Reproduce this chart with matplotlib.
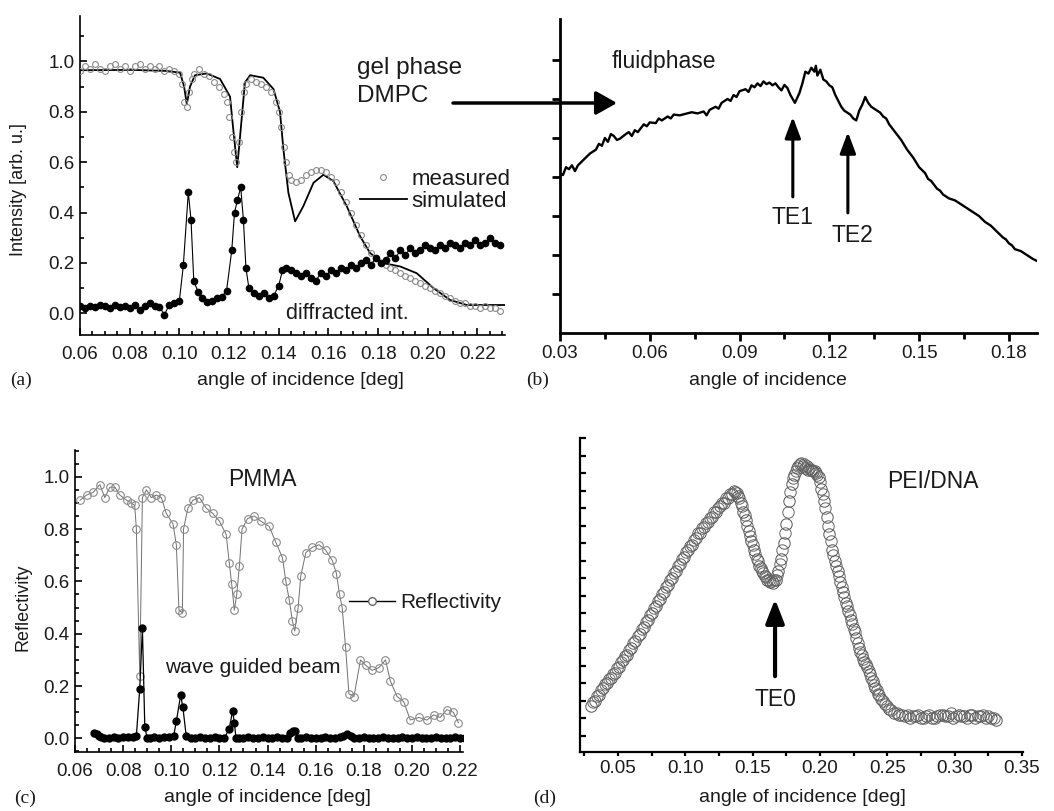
import numpy as np
import matplotlib.pyplot as plt
from matplotlib.patches import FancyArrowPatch
from matplotlib.ticker import MultipleLocator, NullFormatter

# Panel (a): measured reflectivity, simulation and diffracted intensity
a_meas_x = [0.060, 0.062, 0.064, 0.066, 0.068, 0.070, 0.072, 0.074, 0.076, 0.078,
            0.080, 0.082, 0.084, 0.086, 0.088, 0.090, 0.092, 0.094, 0.096, 0.098,
            0.100, 0.101, 0.102, 0.103, 0.104, 0.105, 0.106, 0.108, 0.110, 0.112,
            0.114, 0.116, 0.118, 0.119, 0.120, 0.121, 0.122, 0.123, 0.124, 0.125,
            0.126, 0.127, 0.129, 0.131, 0.133, 0.135, 0.137, 0.139, 0.140, 0.141,
            0.142, 0.143, 0.144, 0.145, 0.147, 0.149, 0.151, 0.153, 0.155, 0.157,
            0.159, 0.161, 0.163, 0.165, 0.167, 0.169, 0.171, 0.173, 0.175, 0.177,
            0.179, 0.181, 0.183, 0.185, 0.187, 0.189, 0.191, 0.193, 0.195, 0.197,
            0.199, 0.201, 0.203, 0.205, 0.207, 0.209, 0.211, 0.213, 0.215, 0.217,
            0.219, 0.221, 0.223, 0.225, 0.227, 0.229]
a_meas_y = [0.96, 0.98, 0.97, 0.99, 0.97, 0.96, 0.98, 0.99, 0.97, 0.98,
            0.96, 0.98, 0.99, 0.97, 0.98, 0.97, 0.98, 0.96, 0.97, 0.96,
            0.95, 0.91, 0.84, 0.82, 0.88, 0.93, 0.95, 0.97, 0.95, 0.94,
            0.92, 0.90, 0.87, 0.84, 0.78, 0.70, 0.64, 0.60, 0.68, 0.80,
            0.88, 0.91, 0.93, 0.92, 0.91, 0.90, 0.88, 0.84, 0.80, 0.74,
            0.66, 0.60, 0.55, 0.53, 0.52, 0.53, 0.55, 0.56, 0.57, 0.57,
            0.56, 0.54, 0.52, 0.48, 0.44, 0.40, 0.35, 0.31, 0.27, 0.24,
            0.22, 0.20, 0.19, 0.18, 0.17, 0.16, 0.15, 0.14, 0.13, 0.12,
            0.11, 0.10, 0.09, 0.08, 0.07, 0.06, 0.05, 0.04, 0.04, 0.03,
            0.03, 0.02, 0.03, 0.02, 0.02, 0.01]

a_sim_x = [0.060, 0.0815, 0.0949, 0.1003, 0.1019, 0.1030, 0.1043, 0.1063, 0.111,
           0.1164, 0.1204, 0.1217, 0.1233, 0.1247, 0.1264, 0.1285, 0.1338, 0.1379,
           0.1405, 0.1419, 0.1439, 0.1466, 0.1499, 0.154, 0.158, 0.162, 0.1674,
           0.1728, 0.1768, 0.1822, 0.1889, 0.1956, 0.2023, 0.209, 0.2157, 0.2311]
a_sim_y = [0.965, 0.966, 0.962, 0.955, 0.90, 0.83, 0.90, 0.945, 0.952,
           0.93, 0.86, 0.73, 0.58, 0.73, 0.916, 0.945, 0.935, 0.89,
           0.80, 0.65, 0.478, 0.365, 0.425, 0.518, 0.55, 0.525, 0.425,
           0.305, 0.239, 0.199, 0.186, 0.159, 0.10, 0.053, 0.033, 0.033]

a_diff_x = [0.060, 0.062, 0.064, 0.066, 0.068, 0.070, 0.072, 0.074, 0.076, 0.078,
            0.080, 0.082, 0.084, 0.086, 0.088, 0.090, 0.092, 0.094, 0.096, 0.098,
            0.100, 0.1016, 0.1036, 0.1047, 0.1058, 0.1075, 0.109, 0.111, 0.113,
            0.115, 0.117, 0.119, 0.1211, 0.1222, 0.1234, 0.1247, 0.1258, 0.1268,
            0.128, 0.130, 0.132, 0.134, 0.136, 0.138, 0.140, 0.1415, 0.143, 0.145,
            0.147, 0.149, 0.151, 0.153, 0.155, 0.157, 0.159, 0.161, 0.163, 0.165,
            0.167, 0.169, 0.171, 0.173, 0.175, 0.177, 0.179, 0.181, 0.183, 0.185,
            0.187, 0.189, 0.191, 0.193, 0.195, 0.197, 0.199, 0.201, 0.203, 0.205,
            0.207, 0.209, 0.211, 0.213, 0.215, 0.217, 0.219, 0.221, 0.223, 0.225,
            0.227, 0.229]
a_diff_y = [0.03, 0.02, 0.03, 0.025, 0.035, 0.03, 0.02, 0.035, 0.025, 0.03,
            0.02, 0.035, 0.015, 0.03, 0.04, 0.03, 0.025, -0.005, 0.035, 0.04,
            0.05, 0.19, 0.48, 0.37, 0.13, 0.085, 0.06, 0.045, 0.05,
            0.06, 0.065, 0.09, 0.25, 0.40, 0.45, 0.50, 0.37, 0.18,
            0.10, 0.08, 0.07, 0.08, 0.06, 0.07, 0.11, 0.17, 0.18, 0.17,
            0.16, 0.15, 0.16, 0.14, 0.13, 0.16, 0.15, 0.17, 0.16, 0.18,
            0.17, 0.19, 0.18, 0.20, 0.21, 0.19, 0.22, 0.20, 0.21, 0.24,
            0.22, 0.25, 0.23, 0.26, 0.24, 0.25, 0.27, 0.26, 0.25, 0.27,
            0.26, 0.28, 0.27, 0.26, 0.28, 0.27, 0.29, 0.27, 0.28, 0.30,
            0.28, 0.27]

# Panel (b): fluid phase DMPC
b_x = [0.030, 0.031, 0.032, 0.033, 0.034, 0.035, 0.036, 0.038, 0.040, 0.042,
       0.043, 0.044, 0.045, 0.046, 0.047, 0.048, 0.049, 0.050, 0.052, 0.053,
       0.054, 0.055, 0.056, 0.058, 0.059, 0.060, 0.062, 0.063, 0.064, 0.066,
       0.067, 0.068, 0.070, 0.072, 0.074, 0.076, 0.078, 0.079, 0.080, 0.082,
       0.083, 0.084, 0.086, 0.087, 0.088, 0.089, 0.090, 0.092, 0.093, 0.094,
       0.095, 0.096, 0.097, 0.098, 0.099, 0.100, 0.101, 0.102, 0.103, 0.104,
       0.105, 0.106, 0.107, 0.1085, 0.110, 0.111, 0.112, 0.113, 0.114, 0.115,
       0.1155, 0.116, 0.117, 0.118, 0.119, 0.120, 0.121, 0.122, 0.123, 0.124,
       0.125, 0.126, 0.127, 0.128, 0.129, 0.130, 0.131, 0.132, 0.133, 0.134,
       0.135, 0.136, 0.137, 0.138, 0.139, 0.140, 0.142, 0.144, 0.146, 0.148,
       0.150, 0.152, 0.153, 0.154, 0.155, 0.156, 0.157, 0.158, 0.159, 0.160,
       0.162, 0.163, 0.164, 0.166, 0.168, 0.170, 0.172, 0.174, 0.176, 0.178,
       0.179, 0.180, 0.181, 0.182, 0.184, 0.186, 0.188, 0.1893]
b_y = [4.10, 4.05, 4.25, 4.20, 4.30, 4.15, 4.30, 4.45, 4.60, 4.70,
       4.85, 4.80, 5.00, 4.90, 5.10, 5.05, 4.95, 4.98, 5.10, 5.15,
       5.05, 5.20, 5.15, 5.35, 5.30, 5.40, 5.38, 5.50, 5.45, 5.55,
       5.50, 5.60, 5.58, 5.62, 5.66, 5.63, 5.68, 5.58, 5.72, 5.80,
       5.75, 5.90, 6.00, 5.95, 6.10, 6.05, 6.20, 6.25, 6.18, 6.35,
       6.30, 6.40, 6.33, 6.45, 6.38, 6.42, 6.35, 6.40, 6.30, 6.22,
       6.36, 6.28, 6.10, 5.90, 6.15, 6.40, 6.70, 6.65, 6.80, 6.70,
       6.85, 6.60, 6.75, 6.50, 6.45, 6.35, 6.30, 6.10, 5.95, 5.80,
       5.70, 5.65, 5.60, 5.50, 5.45, 5.70, 5.85, 6.05, 5.90, 5.80,
       5.75, 5.70, 5.65, 5.55, 5.50, 5.35, 5.15, 4.95, 4.70, 4.50,
       4.25, 4.10, 3.95, 3.90, 3.80, 3.70, 3.65, 3.55, 3.50, 3.45,
       3.40, 3.35, 3.30, 3.20, 3.10, 3.00, 2.85, 2.75, 2.60, 2.45,
       2.40, 2.30, 2.25, 2.15, 2.10, 2.00, 1.90, 1.85]

# Panel (c): PMMA reflectivity and wave guided beam
c_refl_x = [0.0621, 0.0648, 0.0676, 0.0703, 0.0724, 0.0745, 0.0766, 0.0786, 0.0814,
            0.0834, 0.0848, 0.0855, 0.0869, 0.0880, 0.0897, 0.0917, 0.0938, 0.0959,
            0.0979, 0.1007, 0.1021, 0.1032, 0.1046, 0.1051, 0.1069, 0.1090, 0.1117,
            0.1145, 0.1172, 0.1200, 0.1228, 0.1241, 0.1251, 0.1262, 0.1272, 0.1283,
            0.1294, 0.1317, 0.1345, 0.1372, 0.1407, 0.1434, 0.1462, 0.1476, 0.1490,
            0.1503, 0.1513, 0.1527, 0.1538, 0.1559, 0.1586, 0.1614, 0.1641, 0.1669,
            0.1686, 0.1699, 0.1710, 0.1724, 0.1738, 0.1759, 0.1786, 0.1807, 0.1834,
            0.1862, 0.1890, 0.1910, 0.1938, 0.1966, 0.1993, 0.2028, 0.2062, 0.2090,
            0.2117, 0.2145, 0.2172, 0.2193]
c_refl_y = [0.91, 0.93, 0.94, 0.97, 0.92, 0.96, 0.96, 0.93, 0.91,
            0.90, 0.89, 0.80, 0.24, 0.92, 0.95, 0.92, 0.93, 0.92,
            0.86, 0.82, 0.74, 0.49, 0.48, 0.80, 0.88, 0.91, 0.92,
            0.88, 0.86, 0.83, 0.78, 0.67, 0.59, 0.49, 0.55, 0.66,
            0.80, 0.84, 0.85, 0.83, 0.81, 0.75, 0.69, 0.60, 0.53,
            0.45, 0.41, 0.50, 0.62, 0.71, 0.73, 0.74, 0.72, 0.68,
            0.63, 0.55, 0.50, 0.35, 0.17, 0.16, 0.30, 0.28, 0.26,
            0.27, 0.30, 0.22, 0.16, 0.14, 0.07, 0.08, 0.07, 0.09,
            0.08, 0.11, 0.10, 0.06]

c_wave_x = [0.068, 0.069, 0.070, 0.071, 0.072, 0.074, 0.076, 0.078, 0.080, 0.082,
            0.084, 0.0855, 0.0869, 0.0880, 0.0890, 0.0900, 0.091, 0.093, 0.095, 0.097,
            0.099, 0.101, 0.1021, 0.1039, 0.1048, 0.1062, 0.108, 0.110, 0.112, 0.114,
            0.116, 0.118, 0.120, 0.122, 0.124, 0.1255, 0.1262, 0.1269, 0.128, 0.130,
            0.132, 0.134, 0.136, 0.138, 0.140, 0.142, 0.144, 0.146, 0.148, 0.1495,
            0.1505, 0.1515, 0.1525, 0.154, 0.156, 0.158, 0.160, 0.162, 0.164, 0.166,
            0.168, 0.170, 0.1715, 0.173, 0.1745, 0.176, 0.178, 0.180, 0.182, 0.184,
            0.186, 0.188, 0.190, 0.192, 0.194, 0.196, 0.198, 0.200, 0.202, 0.204,
            0.206, 0.208, 0.210, 0.212, 0.214, 0.216, 0.218, 0.220, 0.222]
c_wave_y = [0.02, 0.015, 0.01, 0.005, 0.0, 0.0, 0.005, 0.0, 0.005, 0.005,
            0.005, 0.01, 0.19, 0.42, 0.045, 0.0, 0.0, 0.005, 0.0, 0.005,
            0.005, 0.01, 0.065, 0.165, 0.12, 0.01, 0.0, 0.0, 0.005, 0.0,
            0.0, 0.005, 0.0, 0.0, 0.035, 0.105, 0.06, 0.0, 0.0, 0.0,
            0.005, 0.0, 0.0, 0.005, 0.0, 0.0, 0.005, 0.0, 0.0, 0.02,
            0.03, 0.03, 0.0, 0.0, 0.005, 0.0, 0.0, 0.0, 0.005, 0.0,
            0.0, 0.005, 0.01, 0.015, 0.01, 0.0, 0.0, 0.005, 0.0, 0.0,
            0.0, 0.005, 0.0, 0.0, 0.0, 0.005, 0.0, 0.0, 0.005, 0.0,
            0.0, 0.0, 0.005, 0.0, 0.0, 0.0, 0.005, 0.0, 0.0]

# Panel (d): PEI/DNA, two overlapping scans
d_x = [0.030, 0.033, 0.036, 0.039, 0.042, 0.045, 0.048, 0.051, 0.054, 0.057,
       0.060, 0.063, 0.066, 0.069, 0.072, 0.075, 0.078, 0.081, 0.084, 0.087,
       0.090, 0.093, 0.096, 0.099, 0.102, 0.105, 0.108, 0.111, 0.114, 0.117,
       0.120, 0.123, 0.126, 0.129, 0.132, 0.135, 0.137, 0.139, 0.141, 0.143,
       0.145, 0.147, 0.149, 0.151, 0.153, 0.155, 0.157, 0.159, 0.161, 0.163,
       0.165, 0.167, 0.169, 0.171, 0.173, 0.175, 0.177, 0.179, 0.181, 0.183,
       0.185, 0.187, 0.189, 0.191, 0.193, 0.195, 0.197, 0.199, 0.201, 0.203,
       0.205, 0.207, 0.209, 0.211, 0.213, 0.215, 0.217, 0.219, 0.221, 0.223,
       0.225, 0.227, 0.229, 0.231, 0.233, 0.235, 0.237, 0.239, 0.241, 0.243,
       0.245, 0.248, 0.251, 0.255, 0.259, 0.263, 0.267, 0.271, 0.275, 0.279,
       0.283, 0.287, 0.291, 0.295, 0.299, 0.303, 0.307, 0.311, 0.315, 0.319,
       0.323, 0.327, 0.331]
d_y = [2.7, 3.0, 3.3, 3.7, 4.0, 4.3, 4.6, 4.9, 5.3, 5.6,
       6.0, 6.4, 6.8, 7.2, 7.6, 8.0, 8.4, 8.8, 9.2, 9.6,
       10.0, 10.4, 10.8, 11.2, 11.6, 11.9, 12.3, 12.6, 12.9, 13.2,
       13.5, 13.8, 14.1, 14.3, 14.6, 14.8, 14.9, 14.7, 14.3, 13.8,
       13.3, 12.7, 12.1, 11.6, 11.1, 10.7, 10.4, 10.1, 9.9, 9.8,
       9.7, 9.9, 10.4, 11.1, 12.0, 13.1, 14.4, 15.4, 15.9, 16.3,
       16.5, 16.4, 16.3, 16.2, 16.2, 16.1, 16.0, 15.8, 15.1, 14.4,
       13.5, 12.5, 11.6, 11.0, 10.4, 9.8, 9.2, 8.6, 8.1, 7.6,
       7.1, 6.6, 6.0, 5.6, 5.2, 4.9, 4.5, 4.1, 3.7, 3.4,
       3.1, 2.8, 2.5, 2.3, 2.2, 2.1, 2.0, 2.1, 2.0, 2.1,
       2.0, 2.1, 2.2, 2.1, 2.0, 2.2, 2.1, 2.2, 2.0, 2.1,
       2.0, 2.0, 1.9]
d2_x = [0.0315, 0.0345, 0.0375, 0.0405, 0.0435, 0.0465, 0.0495, 0.0525, 0.0555, 0.0585,
        0.0615, 0.0645, 0.0675, 0.0705, 0.0735, 0.0765, 0.0795, 0.0825, 0.0855, 0.0885,
        0.0915, 0.0945, 0.0975, 0.1005, 0.1035, 0.1065, 0.1095, 0.1125, 0.1155, 0.1185,
        0.1215, 0.1245, 0.1275, 0.1305, 0.1335, 0.1365, 0.138, 0.140, 0.142, 0.144,
        0.146, 0.148, 0.150, 0.152, 0.154, 0.156, 0.158, 0.160, 0.162, 0.164,
        0.166, 0.168, 0.170, 0.172, 0.174, 0.176, 0.178, 0.180, 0.182, 0.184,
        0.186, 0.188, 0.190, 0.192, 0.194, 0.196, 0.198, 0.200, 0.202, 0.204,
        0.206, 0.208, 0.210, 0.212, 0.214, 0.216, 0.218, 0.220, 0.222, 0.224,
        0.226, 0.228, 0.230, 0.232, 0.234, 0.236, 0.238, 0.240, 0.242, 0.244,
        0.2465, 0.2495, 0.253, 0.257, 0.261, 0.265, 0.269, 0.273, 0.277, 0.281,
        0.285, 0.289, 0.293, 0.297, 0.301, 0.305, 0.309, 0.313, 0.317, 0.321,
        0.325, 0.329]
d2_y = [2.95, 3.25, 3.6, 3.95, 4.25, 4.55, 4.85, 5.2, 5.55, 5.9,
        6.3, 6.7, 7.1, 7.5, 7.9, 8.3, 8.7, 9.1, 9.5, 9.9,
        10.3, 10.7, 11.1, 11.5, 11.85, 12.2, 12.55, 12.85, 13.15, 13.45,
        13.75, 14.0, 14.3, 14.55, 14.8, 15.0, 14.85, 14.55, 14.1, 13.6,
        13.0, 12.4, 11.9, 11.4, 10.95, 10.6, 10.3, 10.05, 9.9, 9.85,
        9.9, 10.2, 10.8, 11.6, 12.6, 13.8, 14.9, 15.7, 16.1, 16.4,
        16.6, 16.5, 16.4, 16.3, 16.2, 16.1, 15.9, 15.5, 14.8, 14.0,
        13.0, 12.1, 11.3, 10.7, 10.1, 9.5, 8.9, 8.4, 7.9, 7.4,
        6.9, 6.3, 5.8, 5.4, 5.1, 4.7, 4.3, 3.9, 3.6, 3.3,
        3.0, 2.7, 2.45, 2.3, 2.2, 2.2, 2.1, 2.2, 2.0, 2.2,
        2.0, 2.2, 2.1, 2.3, 2.1, 2.1, 2.0, 2.2, 2.1, 2.2,
        2.1, 2.0]

W, H = 1054, 811
plt.rcParams['font.family'] = ['Liberation Sans', 'DejaVu Sans']
txt = '#1a1a1a'
tick_fs = 13.5
lab_fs = 14
ann_fs = 16.5


def fx(px):
    return px / W


def fy(py):
    return 1 - py / H


def box(left, top, right, bottom):
    return [fx(left), fy(bottom), (right - left) / W, (bottom - top) / H]


def style(ax, lw, direction, length):
    for s in ['top', 'right']:
        ax.spines[s].set_visible(False)
    for s in ['left', 'bottom']:
        ax.spines[s].set_linewidth(lw)
    ax.tick_params(which='major', direction=direction, length=length, width=lw,
                   labelsize=tick_fs, labelcolor=txt)
    ax.tick_params(which='minor', direction=direction, length=length * 0.55, width=lw)


fig = plt.figure(figsize=(W / 100, H / 100), dpi=100)

# %% (a)
ax_a = fig.add_axes(box(80, 16, 505, 335))
ax_a.plot(a_sim_x, a_sim_y, color='k', lw=1.3, zorder=2)
ax_a.plot(a_meas_x, a_meas_y, 'o', ms=4.2, mfc='none', mec='#8a8a8a', mew=0.8, zorder=3)
ax_a.plot(a_diff_x, a_diff_y, '-o', color='k', lw=0.8, ms=4.5, zorder=4)
ax_a.set_xlim(0.06, 0.2311)
ax_a.set_ylim(-0.086, 1.18)
ax_a.xaxis.set_major_locator(MultipleLocator(0.02))
ax_a.xaxis.set_minor_locator(MultipleLocator(0.005))
ax_a.yaxis.set_major_locator(MultipleLocator(0.2))
ax_a.yaxis.set_minor_locator(MultipleLocator(0.1))
ax_a.xaxis.set_major_formatter(lambda v, p: f'{v:.2f}')
ax_a.yaxis.set_major_formatter(lambda v, p: f'{v:.1f}')
style(ax_a, 1.2, 'in', 5)
ax_a.tick_params(axis='x', pad=8)
ax_a.tick_params(axis='y', pad=4)
ax_a.set_ylabel('Intensity [arb. u.]', fontsize=lab_fs - 1, color=txt)
ax_a.yaxis.set_label_coords(-0.124, 0.455)
ax_a.text(0.1675, 0.0, 'diffracted int.', fontsize=ann_fs - 1, color=txt,
          ha='center', va='center')
ha1, = ax_a.plot([], [], 'o', ms=4.2, mfc='none', mec='#8a8a8a', mew=0.8)
ha2, = ax_a.plot([], [], color='k', lw=1.3)
ax_a.legend([ha1, ha2], ['measured', 'simulated'], loc='upper left',
            bbox_to_anchor=(fx(360), fy(169)), bbox_transform=fig.transFigure,
            frameon=False, fontsize=ann_fs - 0.5, handlelength=2.1,
            handletextpad=0.2, labelspacing=0.05, borderpad=0, borderaxespad=0,
            labelcolor=txt)

# %% (b)
ax_b = fig.add_axes(box(560, 19, 1037, 333))
ax_b.plot(b_x, b_y, color='k', lw=1.7)
ax_b.set_xlim(0.03, 0.1894)
ax_b.set_ylim(0, 8.05)
ax_b.xaxis.set_major_locator(MultipleLocator(0.03))
ax_b.xaxis.set_minor_locator(MultipleLocator(0.015))
ax_b.set_yticks([1, 2, 3, 4, 5, 6, 7])
ax_b.yaxis.set_major_formatter(NullFormatter())
ax_b.xaxis.set_major_formatter(lambda v, p: f'{v:.2f}')
style(ax_b, 2.0, 'out', 6)
ax_b.tick_params(axis='x', which='minor', length=4)
ax_b.tick_params(axis='x', pad=3)
ax_b.text(0.0474, 6.95, 'fluidphase', fontsize=ann_fs, color=txt, ha='left', va='center')
arrow_b = dict(arrowstyle='-|>,head_length=0.8,head_width=0.3', lw=2.2, color='k',
               mutation_scale=16, shrinkA=0, shrinkB=0)
ax_b.annotate('', xy=(0.1078, 5.54), xytext=(0.1078, 3.49), arrowprops=arrow_b)
ax_b.annotate('', xy=(0.1262, 5.15), xytext=(0.1262, 3.08), arrowprops=arrow_b)
ax_b.text(0.1078, 2.97, 'TE1', fontsize=ann_fs, color=txt, ha='center', va='center')
ax_b.text(0.1278, 2.5, 'TE2', fontsize=ann_fs, color=txt, ha='center', va='center')

# %% (c)
ax_c = fig.add_axes(box(75, 450, 463, 752))
ax_c.plot(c_refl_x, c_refl_y, '-o', color='#707070', lw=0.7, ms=5.5, mfc='none',
          mec='#8a8a8a', mew=0.8, zorder=2)
ax_c.plot(c_wave_x, c_wave_y, '-o', color='k', lw=0.9, ms=5, zorder=3)
ax_c.set_xlim(0.06, 0.2212)
ax_c.set_ylim(-0.052, 1.102)
ax_c.xaxis.set_major_locator(MultipleLocator(0.02))
ax_c.xaxis.set_minor_locator(MultipleLocator(0.005))
ax_c.yaxis.set_major_locator(MultipleLocator(0.2))
ax_c.yaxis.set_minor_locator(MultipleLocator(0.05))
ax_c.xaxis.set_major_formatter(lambda v, p: f'{v:.2f}')
ax_c.yaxis.set_major_formatter(lambda v, p: f'{v:.1f}')
style(ax_c, 1.2, 'in', 5)
ax_c.tick_params(axis='x', pad=8)
ax_c.tick_params(axis='y', pad=4)
ax_c.set_ylabel('Reflectivity', fontsize=lab_fs - 1, color=txt)
ax_c.yaxis.set_label_coords(-0.112, 0.48)
ax_c.text(0.1378, 0.99, 'PMMA', fontsize=ann_fs, color=txt, ha='center', va='center')
ax_c.text(0.0973, 0.27, 'wave guided beam', fontsize=ann_fs - 1.5, color=txt,
          ha='left', va='center')
hc, = ax_c.plot([], [], '-o', color='k', lw=1.0, ms=5.5, mfc='white', mec='#666666')
ax_c.legend([hc], ['Reflectivity'], loc='center left',
            bbox_to_anchor=(fx(349), fy(603)), bbox_transform=fig.transFigure,
            frameon=False, fontsize=ann_fs - 1.5, handlelength=2.2,
            handletextpad=0.25, borderpad=0, borderaxespad=0, labelcolor=txt)

# %% (d)
ax_d = fig.add_axes(box(580, 438, 1023, 752))
ax_d.plot(d_x, d_y, 'o', ms=8.2, mfc='none', mec='#555555', mew=0.7)
ax_d.plot(d2_x, d2_y, 'o', ms=8.2, mfc='none', mec='#666666', mew=0.7)
ax_d.set_xlim(0.0218, 0.3507)
ax_d.set_ylim(0.07, 18)
ax_d.xaxis.set_major_locator(MultipleLocator(0.05))
ax_d.xaxis.set_minor_locator(MultipleLocator(0.025))
ax_d.set_yticks(list(range(1, 19)))
ax_d.yaxis.set_major_formatter(NullFormatter())
ax_d.xaxis.set_major_formatter(lambda v, p: f'{v:.2f}')
style(ax_d, 1.6, 'in', 4)
ax_d.tick_params(axis='x', which='both', direction='out', length=3)
ax_d.tick_params(axis='x', pad=3)
ax_d.text(0.2839, 15.5, 'PEI/DNA', fontsize=ann_fs, color=txt, ha='center', va='center')
ax_d.annotate('', xy=(0.1666, 8.8), xytext=(0.1666, 4.4),
              arrowprops=dict(arrowstyle='-|>,head_length=0.9,head_width=0.35', lw=3,
                              color='k', mutation_scale=16, shrinkA=0, shrinkB=0))
ax_d.text(0.1666, 3.08, 'TE0', fontsize=ann_fs, color=txt, ha='center', va='center')

# %% Figure level texts and the gel phase arrow
fig.text(fx(300), fy(380), 'angle of incidence [deg]', fontsize=lab_fs, color=txt,
         ha='center', va='center')
fig.text(fx(768), fy(380), 'angle of incidence', fontsize=lab_fs, color=txt,
         ha='center', va='center')
fig.text(fx(267), fy(798), 'angle of incidence [deg]', fontsize=lab_fs, color=txt,
         ha='center', va='center')
fig.text(fx(802), fy(798), 'angle of incidence [deg]', fontsize=lab_fs, color=txt,
         ha='center', va='center')
for lab, px, py in [('(a)', 21, 380), ('(b)', 538, 380), ('(c)', 25, 798), ('(d)', 545, 798)]:
    fig.text(fx(px), fy(py), lab, fontsize=14, family='Liberation Serif', color=txt,
             ha='center', va='center')
fig.text(fx(357), fy(68), 'gel phase', fontsize=ann_fs + 1, color=txt, ha='left', va='center')
fig.text(fx(357), fy(96), 'DMPC', fontsize=ann_fs + 1, color=txt, ha='left', va='center')
fig.add_artist(FancyArrowPatch((fx(453), fy(103)), (fx(617), fy(103)),
                               transform=fig.transFigure,
                               arrowstyle='-|>,head_length=0.8,head_width=0.45',
                               mutation_scale=16, lw=2.5, color='k',
                               shrinkA=0, shrinkB=0))

fig.savefig('out.png', dpi=100)
